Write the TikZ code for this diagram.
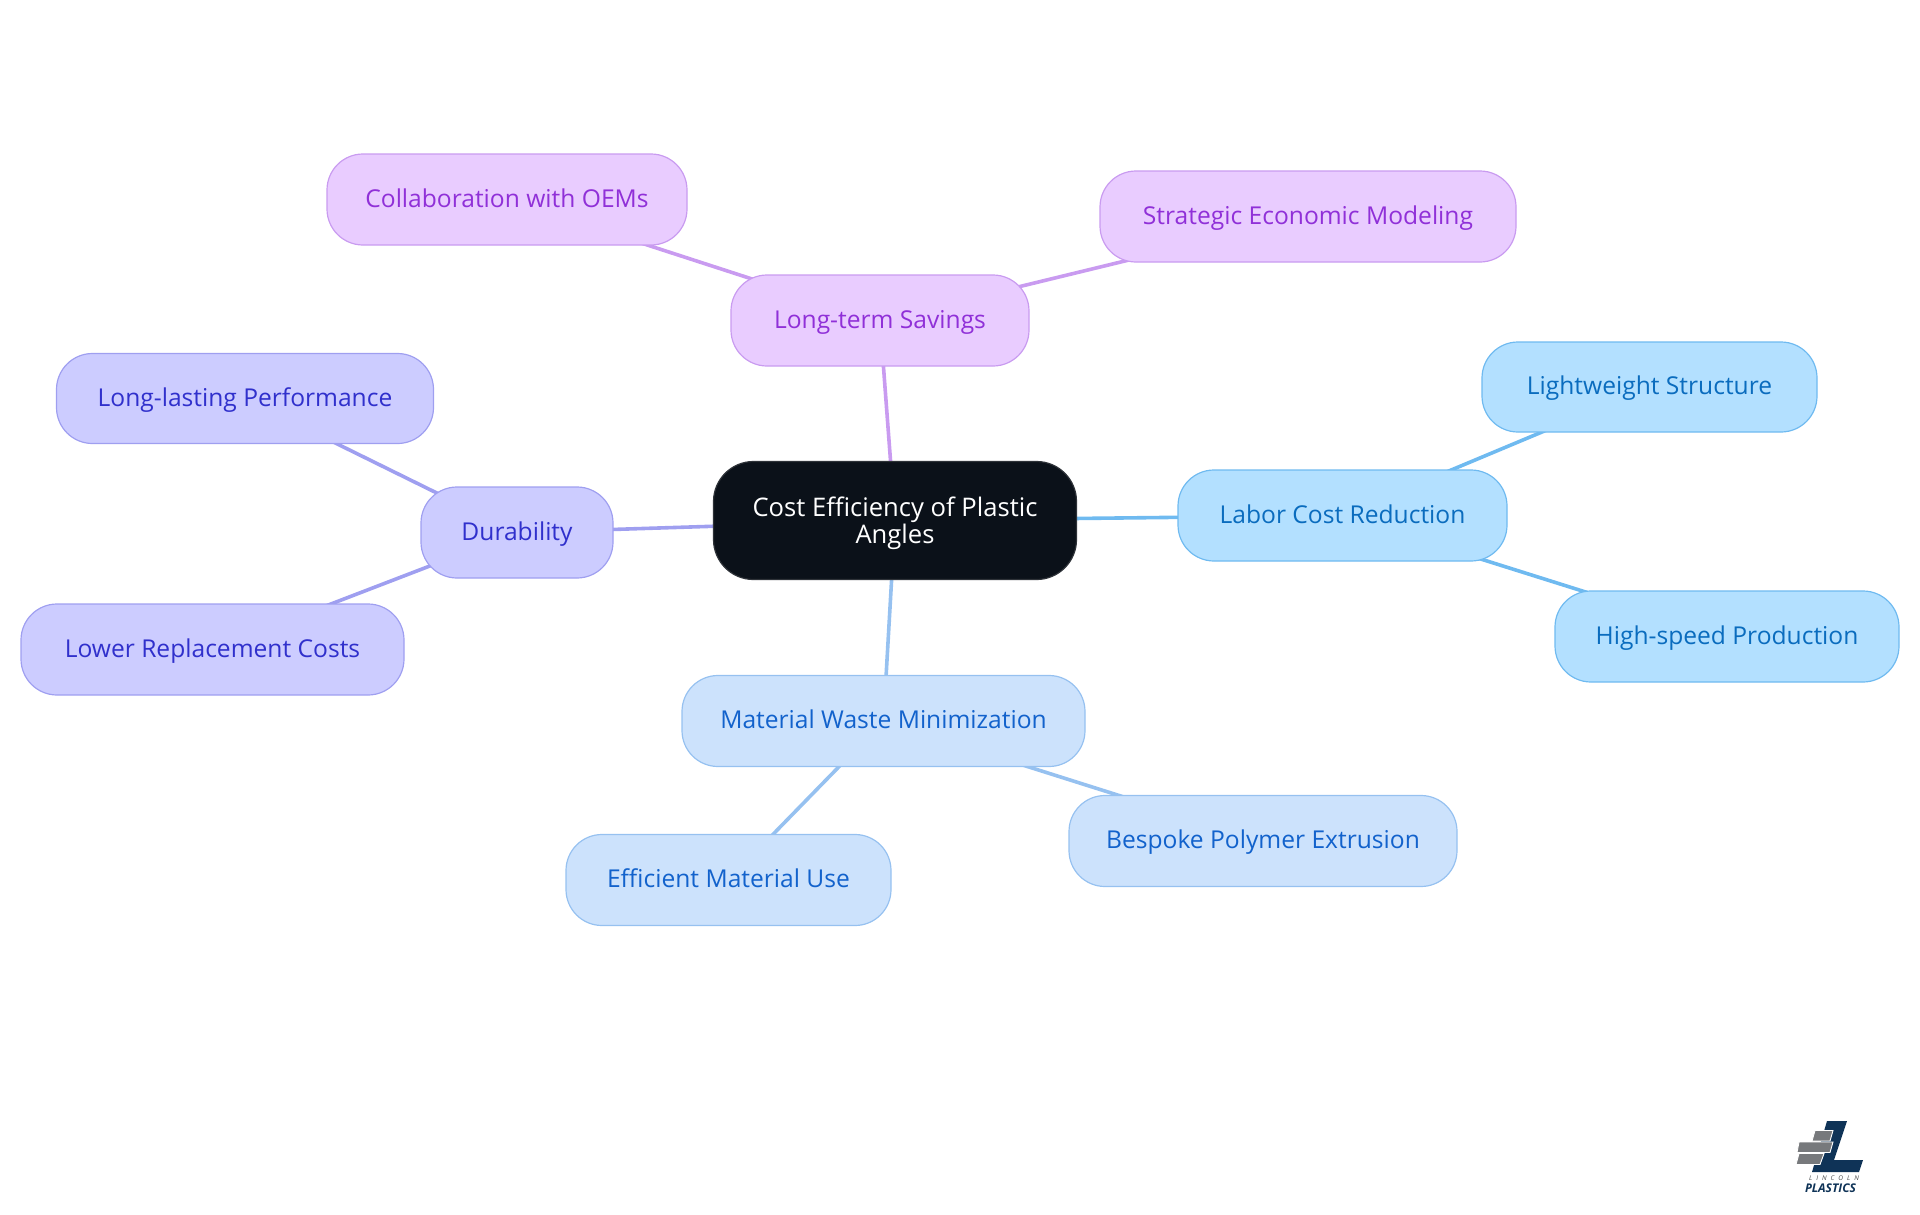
\documentclass[tikz,border=0pt]{standalone}
\usepackage{fontspec}
\setmainfont{Open Sans}
\usetikzlibrary{backgrounds}
\definecolor{rootfill}{HTML}{0B1119}
\definecolor{rootline}{HTML}{2E3238}
\definecolor{pfill}{HTML}{E9CCFF}\definecolor{pline}{HTML}{C99BF0}\definecolor{ptext}{HTML}{9030D8}
\definecolor{bfill}{HTML}{B3E0FF}\definecolor{bline}{HTML}{6FBAF0}\definecolor{btext}{HTML}{0A6CBE}
\definecolor{lfill}{HTML}{CCE2FC}\definecolor{lline}{HTML}{96C1F0}\definecolor{ltext}{HTML}{1262CC}
\definecolor{ifill}{HTML}{CCCCFF}\definecolor{iline}{HTML}{9F9FF0}\definecolor{itext}{HTML}{3030CC}
\definecolor{logoblue}{HTML}{0F3357}
\definecolor{logogrey}{HTML}{77797C}
\tikzset{
  every node/.style={font=\fontsize{24.6}{27.5}\selectfont},
  box/.style={draw, line width=1.2pt, rounded corners=36pt, inner sep=0pt, align=center},
  leaf/.style={box, text height=20pt, text depth=4.5pt},
  rootbox/.style={box, fill=rootfill, draw=rootline, text=white, rounded corners=40pt, font=\fontsize{25.6}{27.5}\selectfont},
  pbox/.style={leaf, fill=pfill, draw=pline, text=ptext},
  bbox/.style={leaf, fill=bfill, draw=bline, text=btext},
  lbox/.style={leaf, fill=lfill, draw=lline, text=ltext},
  ibox/.style={leaf, fill=ifill, draw=iline, text=itext},
  link/.style={line width=3.6pt},
  brick/.style={fill=logogrey, draw=white, line width=0.9pt},
}
\newcommand{\nb}[5]{\node[#1, minimum width=#4pt, minimum height=#5pt] (#2) at (#3) }
\begin{document}
\begin{tikzpicture}[x=1pt,y=-1pt]
\useasboundingbox (0,0) rectangle (1920,1215);
\nb{rootbox}{root}{895,520.5}{363}{118} {\rule{0pt}{25pt}Cost Efficiency of Plastic\\Angles};
\nb{pbox}{sav}{880,320.5}{298}{91} {Long-term Savings};
\nb{pbox}{oem}{507,199.5}{360}{91} {Collaboration with OEMs};
\nb{pbox}{eco}{1308,216.5}{416}{91} {Strategic Economic Modeling};
\nb{bbox}{lab}{1342.5,515.5}{329}{91} {Labor Cost Reduction};
\nb{bbox}{lig}{1649.5,387}{335}{90} {Lightweight Structure};
\nb{bbox}{hig}{1727,636.5}{344}{91} {High-speed Production};
\nb{lbox}{mat}{883.5,721}{403}{91} {Material Waste Minimization};
\nb{lbox}{eff}{728.5,880}{325}{91} {Efficient Material Use};
\nb{lbox}{bes}{1263,841}{388}{91} {Bespoke Polymer Extrusion};
\nb{ibox}{dur}{517,532.5}{192}{91} {Durability};
\nb{ibox}{lon}{245,398.5}{377}{90} {Long-lasting Performance};
\nb{ibox}{low}{212.5,649.5}{383}{91} {Lower Replacement Costs};
\begin{scope}[on background layer]
\draw[link, pline] (root.center) -- (sav.center);
\draw[link, pline] (sav.center) -- (oem.center);
\draw[link, pline] (sav.center) -- (eco.center);
\draw[link, bline] (root.center) -- (lab.center);
\draw[link, bline] (lab.center) -- (lig.center);
\draw[link, bline] (lab.center) -- (hig.center);
\draw[link, lline] (root.center) -- (mat.center);
\draw[link, lline] (mat.center) -- (eff.center);
\draw[link, lline] (mat.center) -- (bes.center);
\draw[link, iline] (root.center) -- (dur.center);
\draw[link, iline] (dur.center) -- (lon.center);
\draw[link, iline] (dur.center) -- (low.center);
\end{scope}
% logo
\fill[logoblue] (1827,1121) -- (1847,1121) -- (1834,1160) -- (1863,1160) -- (1859,1172) -- (1812,1172) -- cycle;
\path[brick] (1815,1130.5) -- (1833,1130.5) -- (1830,1141) -- (1812,1141) -- cycle;
\path[brick] (1799,1142) -- (1833,1142) -- (1830,1152.5) -- (1797,1152.5) -- cycle;
\path[brick] (1799,1153.5) -- (1824,1153.5) -- (1820,1164.5) -- (1796,1164.5) -- cycle;
\node[font=\fontsize{6.5}{7}\selectfont\itshape, text=logogrey!60!black] (lin) at (1834,1178.5) {L\hspace{4pt}I\hspace{4pt}N\hspace{4pt}C\hspace{4pt}O\hspace{4pt}L\hspace{4pt}N};
\node[font=\fontsize{12}{12}\selectfont\bfseries\itshape, text=logoblue] (pla) at (1830.5,1188.5) {PLASTICS};
\end{tikzpicture}
\end{document}
